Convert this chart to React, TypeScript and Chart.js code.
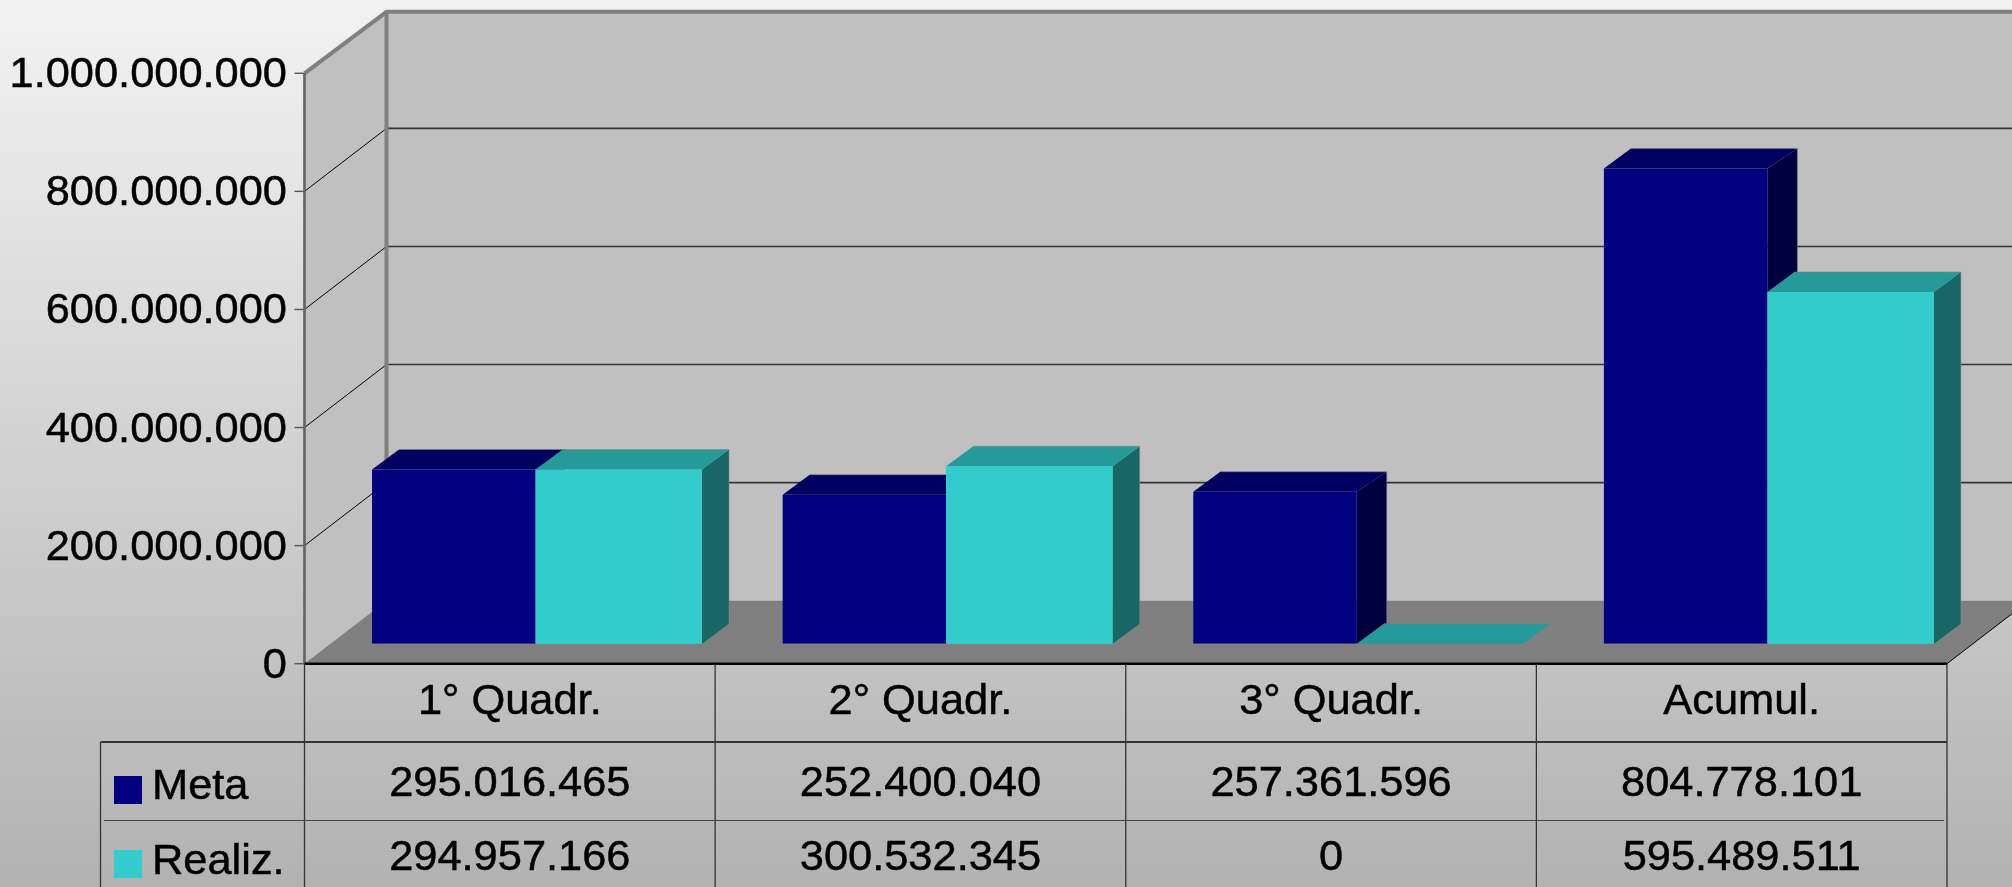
import React, { useEffect, useRef } from "react";
import { Chart, registerables } from "chart.js";

Chart.register(...registerables);

const categories = ["1° Quadr.", "2° Quadr.", "3° Quadr.", "Acumul."];
const metaValues = [295016465, 252400040, 257361596, 804778101];
const realizValues = [294957166, 300532345, 0, 595489511];
const metaLabels = ["295.016.465", "252.400.040", "257.361.596", "804.778.101"];
const realizLabels = ["294.957.166", "300.532.345", "0", "595.489.511"];
const tickLabels: Record<number, string> = {
  0: "0",
  200000000: "200.000.000",
  400000000: "400.000.000",
  600000000: "600.000.000",
  800000000: "800.000.000",
  1000000000: "1.000.000.000",
};
const FONT = "'Liberation Sans', Arial, sans-serif";
const FS = 43.4;
const STROKE = 0.5;

// 3D geometry
const BAR_DX = 27, BAR_DY = 20;      // depth of one bar
const PLANE_DX = 27, PLANE_DY = 20;  // bar plane behind the front plane
const WALL_DX = 82, WALL_DY = 63;    // wall behind the front plane

const poly = (ctx: CanvasRenderingContext2D, pts: number[][], fill: string) => {
  ctx.beginPath();
  pts.forEach((p, i) => (i ? ctx.lineTo(p[0], p[1]) : ctx.moveTo(p[0], p[1])));
  ctx.closePath();
  ctx.fillStyle = fill;
  ctx.fill();
};
const line = (ctx: CanvasRenderingContext2D, x1: number, y1: number, x2: number, y2: number, color: string, w: number) => {
  ctx.beginPath();
  ctx.moveTo(x1, y1);
  ctx.lineTo(x2, y2);
  ctx.strokeStyle = color;
  ctx.lineWidth = w;
  ctx.stroke();
};

const drawBox = (ctx: CanvasRenderingContext2D, el: any, top: string, side: string, rightDx: number) => {
  const half = el.width / 2;
  const l = el.x - half, r = el.x + half, t = el.y, b = el.base;
  if (b > t) poly(ctx, [[r, t], [r + rightDx, t - BAR_DY], [r + rightDx, b - BAR_DY], [r, b]], side);
  poly(ctx, [[l, t], [l + BAR_DX, t - BAR_DY], [r + rightDx, t - BAR_DY], [r, t]], top);
  // faint light edge along the back of the box
  ctx.beginPath();
  ctx.moveTo(l + BAR_DX, t - BAR_DY);
  ctx.lineTo(r + rightDx, t - BAR_DY);
  if (b > t) ctx.lineTo(r + rightDx, b - BAR_DY);
  ctx.strokeStyle = "rgba(128,128,128,0.55)";
  ctx.lineWidth = 1;
  ctx.stroke();
};

const scene = {
  id: "scene",
  beforeDraw(chart: any) {
    const { ctx, width, height, scales } = chart;
    const x = scales.x, y = scales.y;
    const fl = x.left - PLANE_DX, fr = x.right - PLANE_DX;
    const fy = (v: number) => y.getPixelForValue(v) + PLANE_DY;
    const y0 = fy(0), yT = fy(1000000000);
    ctx.save();
    const bg = ctx.createLinearGradient(0, 0, 0, height);
    bg.addColorStop(0, "#f2f2f2");
    bg.addColorStop(1, "#b2b2b2");
    ctx.fillStyle = bg;
    ctx.fillRect(0, 0, width, height);

    // walls and floor
    poly(ctx, [[fl, yT], [fl + WALL_DX, yT - WALL_DY], [fl + WALL_DX, y0 - WALL_DY], [fl, y0]], "#c0c0c0");
    poly(ctx, [[fl + WALL_DX, yT - WALL_DY], [fr + WALL_DX, yT - WALL_DY], [fr + WALL_DX, y0 - WALL_DY], [fl + WALL_DX, y0 - WALL_DY]], "#c0c0c0");
    poly(ctx, [[fl, y0], [fr, y0], [fr + WALL_DX, y0 - WALL_DY], [fl + WALL_DX, y0 - WALL_DY]], "#808080");

    // grid lines from the value scale
    y.ticks.forEach((t: any) => {
      const py = fy(t.value);
      if (t.value > 0 && t.value < 1000000000) {
        line(ctx, fl, py, fl + WALL_DX, py - WALL_DY, "#000000", 1);
        line(ctx, fl + WALL_DX, py - WALL_DY, fr + WALL_DX, py - WALL_DY, "#333333", 1.6);
      }
      line(ctx, fl - 10, py, fl, py, "#555555", 1.4);
    });
    // wall frame
    line(ctx, fl, yT, fl + WALL_DX, yT - WALL_DY + 1.5, "#808080", 4);
    line(ctx, fl + WALL_DX, yT - WALL_DY + 1.5, fr + WALL_DX, yT - WALL_DY + 1.5, "#808080", 4);
    line(ctx, fl + WALL_DX, yT - WALL_DY, fl + WALL_DX, y0 - WALL_DY, "#808080", 4);
    line(ctx, fl, yT, fl, y0, "#666666", 2.7);
    line(ctx, fr, y0, fr + WALL_DX, y0 - WALL_DY, "#000000", 1);
    line(ctx, fl, y0, fr, y0, "#000000", 2.4);

    // data table
    const colW = (fr - fl) / categories.length;
    const row1 = 742, row2 = 820.5;
    for (let i = 0; i <= categories.length; i++) {
      line(ctx, fl + colW * i, y0, fl + colW * i, height, "#333333", 1.3);
    }
    line(ctx, 100.5, row1, fr, row1, "#333333", 1.8);
    line(ctx, 104, row2, fr - 3, row2, "#444444", 1.2);
    line(ctx, 100.5, row1, 100.5, height, "#333333", 1.3);

    ctx.font = `${FS}px ${FONT}`;
    ctx.fillStyle = "#000";
    ctx.strokeStyle = "#000";
    ctx.lineWidth = STROKE;
    ctx.textBaseline = "alphabetic";
    const put = (s: string, px: number, py: number) => {
      ctx.fillText(s, px, py);
      ctx.strokeText(s, px, py);
    };
    ctx.textAlign = "center";
    categories.forEach((_, i) => {
      const cx = fl + colW * (i + 0.5);
      put(metaLabels[i], cx, 795.7);
      put(realizLabels[i], cx, 870.3);
    });
    ctx.textAlign = "left";
    put(chart.data.datasets[0].label, 152, 798.5);
    put(chart.data.datasets[1].label, 152, 873.5);
    ctx.fillStyle = chart.data.datasets[0].backgroundColor;
    ctx.fillRect(114, 776, 28, 28);
    ctx.fillStyle = chart.data.datasets[1].backgroundColor;
    ctx.fillRect(114, 850, 28, 28);
    ctx.restore();
  },
  beforeDatasetsDraw(chart: any) {
    const ctx = chart.ctx;
    ctx.save();
    chart.getDatasetMeta(0).data.forEach((el: any) => drawBox(ctx, el, "#000060", "#000040", 30));
    ctx.restore();
  },
  afterDatasetsDraw(chart: any) {
    const ctx = chart.ctx;
    ctx.save();
    chart.getDatasetMeta(1).data.forEach((el: any) => {
      drawBox(ctx, el, "#269999", "#196666", BAR_DX);
      el.draw(ctx);
    });
    ctx.restore();
  },
};

export default function App() {
  const ref = useRef<HTMLCanvasElement>(null);
  useEffect(() => {
    const chart = new Chart(ref.current!, {
      type: "bar",
      data: {
        labels: categories,
        datasets: [
          { label: "Meta", data: metaValues, backgroundColor: "#000080", categoryPercentage: 0.8089, barPercentage: 0.9843 },
          { label: "Realiz.", data: realizValues, backgroundColor: "#33cccc", categoryPercentage: 0.7982, barPercentage: 1.0159 },
        ],
      },
      options: {
        responsive: false,
        animation: false,
        layout: { padding: { top: 53.3, right: 38, left: 0, bottom: 0 } },
        plugins: { legend: { display: false }, tooltip: { enabled: false }, title: { display: false } },
        scales: {
          x: {
            grid: { display: false },
            border: { display: false },
            ticks: {
              color: "#000",
              font: { family: FONT, size: FS },
              textStrokeColor: "#000",
              textStrokeWidth: STROKE,
              maxRotation: 0,
              autoSkip: false,
              labelOffset: -PLANE_DX,
              padding: 24.6,
            },
            afterFit: (s: any) => { s.height = 243.3; },
          },
          y: {
            min: 0,
            max: 1000000000,
            grid: { display: false },
            border: { display: false },
            ticks: {
              stepSize: 200000000,
              color: "#000",
              font: { family: FONT, size: FS },
              textStrokeColor: "#000",
              textStrokeWidth: STROKE,
              padding: 36.5,
              labelOffset: 22,
              callback: (v: any) => tickLabels[v as number],
            },
            afterFit: (s: any) => { s.width = 331.5; s.paddingTop = 0; s.paddingBottom = 0; },
          },
        },
      },
      plugins: [scene],
    } as any);
    return () => chart.destroy();
  }, []);
  return (
    <div style={{ position: "fixed", left: 0, top: 0, width: 2012, height: 887, overflow: "hidden" }}>
      <canvas ref={ref} width={2012} height={887} style={{ display: "block" }} />
    </div>
  );
}
